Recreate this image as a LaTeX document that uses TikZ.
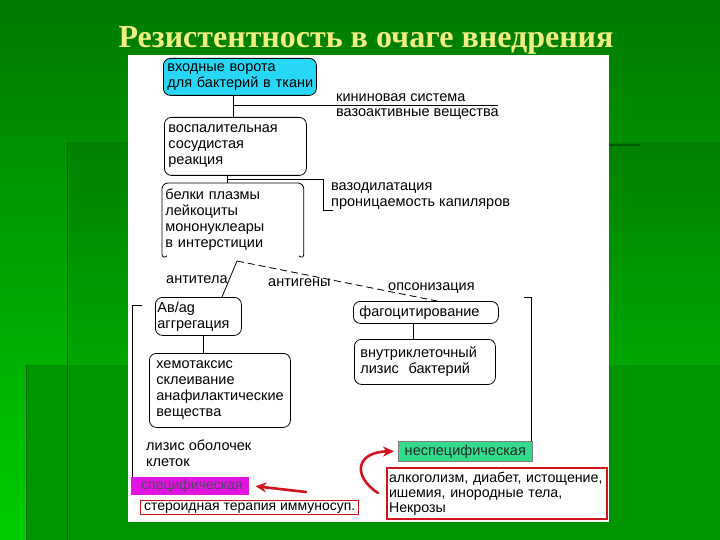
\documentclass[tikz,border=0pt]{standalone}
\usepackage{fontspec}
\setmainfont{Liberation Sans}
\newfontfamily\titlefont{Liberation Serif}
\usetikzlibrary{arrows.meta,calc}
\definecolor{bgtop}{RGB}{0,122,0}
\definecolor{bgbot}{RGB}{0,205,0}
\definecolor{midtop}{RGB}{0,130,0}
\definecolor{midbot}{RGB}{0,165,0}
\definecolor{lowgreen}{RGB}{0,148,0}
\definecolor{titlecol}{RGB}{240,240,130}
\definecolor{cyanbox}{RGB}{40,215,245}
\definecolor{magbox}{RGB}{225,20,225}
\definecolor{greenbox}{RGB}{50,220,140}
\definecolor{redline}{RGB}{210,20,30}
\definecolor{magtext}{RGB}{85,70,100}
\newcommand\dfont{\fontsize{14.5}{16}\selectfont}
\begin{document}
\begin{tikzpicture}[x=1pt,y=-1pt,
  box/.style={draw=black, line width=0.8pt, rounded corners=7pt, anchor=north west,
    align=left, inner xsep=4pt, inner ysep=0pt, font=\dfont},
  lbl/.style={anchor=west, inner sep=0pt, align=left, font=\dfont},
  conn/.style={draw=black, line width=0.8pt},
  redarr/.style={draw=redline, line width=2.6pt, line cap=round, -{Stealth[length=11pt,width=10pt]}}]
\useasboundingbox (0,0) rectangle (720,540);
% background
\shade[top color=bgtop, bottom color=bgbot] (0,0) rectangle (720,540);
\shade[top color=midtop, bottom color=midbot] (67,143) rectangle (720,365);
\fill[lowgreen] (26,365) rectangle (720,540);
\draw[green!40!black, line width=1pt] (67,143) -- (67,540);
\draw[green!40!black, line width=1pt] (26,365) -- (26,540);
\draw[green!35!black, line width=2pt] (605,145) -- (640,145);
% panel
\fill[white] (128,55) rectangle (609,522);
% title
\node[font=\titlefont\bfseries\fontsize{32}{38}\selectfont, text=titlecol] (title) at (366,40) {Резистентность в очаге внедрения};
% boxes
\node[box, fill=cyanbox, inner xsep=2pt, minimum width=153pt, minimum height=37pt, text width=149pt] (b1) at (163,58) {\hspace*{2pt}входные ворота\\\hspace*{2pt}для бактерий в ткани};
\node[box, minimum width=142pt, minimum height=58pt, text width=134pt] (b3) at (164,117) {воспалительная\\сосудистая\\реакция};
\node[box, draw=none, inner xsep=3pt, minimum width=141pt, minimum height=72pt, text width=135pt] (b5) at (162,183) {белки плазмы\\лейкоциты\\мононуклеары\\в интерстиции};
\draw[line width=0.8pt, rounded corners=6pt] ([xshift=5pt]b5.south west) -- ([yshift=-4pt]b5.south west) -- (b5.north west) -- (b5.north east) -- ([yshift=-4pt]b5.south east) -- ([xshift=-5pt]b5.south east);
\node[box, inner xsep=2pt, minimum width=86pt, minimum height=38pt, text width=82pt] (ab) at (155,297) {Ав/ag\\аггрегация};
\node[box, inner xsep=7pt, minimum width=141pt, minimum height=74pt, text width=127pt] (hemo) at (149,353) {хемотаксис\\склеивание\\анафилактические\\вещества};
\node[box, inner xsep=6pt, minimum width=145pt, minimum height=22pt, text width=133pt] (phago) at (353,301) {фагоцитирование};
\node[box, inner xsep=6pt, minimum width=141pt, minimum height=45pt, text width=129pt] (intra) at (354,339) {внутриклеточный\\лизис~~бактерий};
% labels
\node[lbl] (kin1) at (336,98) {кининовая система};
\node[lbl] (kin2) at (336,114) {вазоактивные вещества};
\node[lbl] (vaz1) at (331,188) {вазодилатация};
\node[lbl] (vaz2) at (331,204) {проницаемость капиляров};
\node[lbl] (atl) at (166,280) {антитела};
\node[lbl] (agn) at (268,283) {антигены};
\node[lbl] (ops) at (388,288) {опсонизация};
\node[lbl, anchor=north west] (lys) at (146,440) {лизис оболочек\\клеток};
% coloured boxes
\node[anchor=north west, fill=magbox, minimum width=118pt, minimum height=18pt, inner xsep=4pt, inner ysep=0pt, text width=110pt, align=left, text=magtext, font=\fontsize{14}{16}\selectfont] (mag) at (131,477) {\hspace*{6pt}специфическая};
\node[anchor=north west, draw=redline, line width=1.4pt, minimum width=218pt, minimum height=14pt, inner xsep=2pt, inner ysep=0pt, font=\fontsize{14}{16}\selectfont] (red1) at (140,500) {стероидная терапия иммуносуп.};
\node[anchor=north west, fill=greenbox, draw=gray, line width=0.6pt, minimum width=134pt, minimum height=20pt, inner xsep=5pt, inner ysep=0pt, font=\dfont, text=black!85] (grn) at (398,441) {неспецифическая};
\node[anchor=north west, draw=redline, line width=2pt, minimum width=220pt, minimum height=51pt, text width=216pt, inner xsep=2pt, inner ysep=0pt, align=left, font=\fontsize{14.2}{15}\selectfont] (red2) at (386,467) {алкоголизм, диабет, истощение,\\ишемия, инородные тела,\\Некрозы};
% connectors
\coordinate (j1) at (233,105);
\coordinate (k1) at (498,105);
\draw[conn] (b1.south -| j1) -- (b3.north -| j1);
\draw[conn] (j1) -- (k1);
\coordinate (j2) at (227,179);
\coordinate (k2) at (323,179);
\coordinate (k2b) at (323,210);
\coordinate (k2c) at (333,210);
\draw[conn] (b3.south -| j2) -- (b5.north -| j2);
\draw[conn] (j2) -- (k2) -- (k2b) -- (k2c);
\coordinate (j3) at (237,261);
\draw[conn] (j3) -- ($(ab.north west)+(67,0)$);
\draw[conn, dash pattern=on 7pt off 4pt] (j3) -- ($(phago.north west)+(84,0)$);
\draw[conn] (ab.south -| 203,0) -- (hemo.north -| 203,0);
\draw[conn] (phago.south -| 413,0) -- (intra.north -| 413,0);
\coordinate (lb1) at (142,305);
\coordinate (lb2) at (132,305);
\draw[conn] (lb1) -- (lb2) -- (mag.north -| lb2);
\coordinate (rb1) at (524,297);
\coordinate (rb2) at (531,297);
\draw[conn] (rb1) -- (rb2) -- (grn.north -| rb2);
% red arrows
\coordinate (ra1) at (306,492);
\draw[redarr] (ra1) -- ([xshift=6pt]mag.east);
\coordinate (ra2) at (378,493);
\draw[redarr] (ra2) .. controls (352,476) and (356,452) .. ([xshift=-4pt]grn.west);
\end{tikzpicture}
\end{document}
